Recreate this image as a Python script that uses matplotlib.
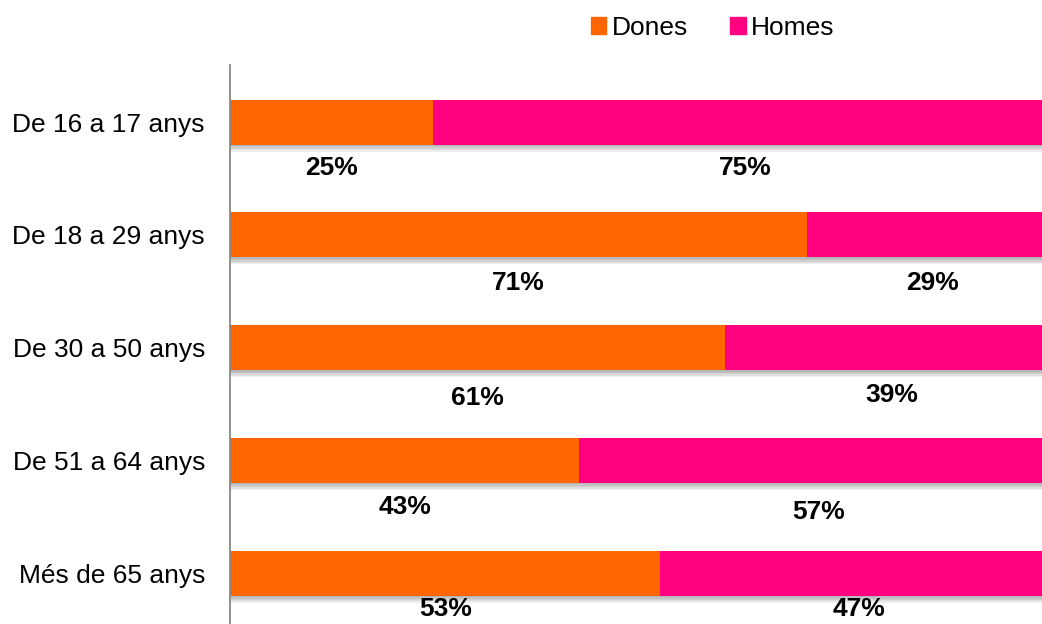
import matplotlib.pyplot as plt
import matplotlib.patheffects as pe
from matplotlib.patches import Patch

# Données
categories = ['De 16 a 17 anys', 'De 18 a 29 anys', 'De 30 a 50 anys',
              'De 51 a 64 anys', 'Més de 65 anys']
dones = [25, 71, 61, 43, 53]
homes = [75, 29, 39, 57, 47]

col_dones = '#FF6600'
col_homes = '#FF0080'

plt.rcParams['font.family'] = ['Liberation Sans', 'DejaVu Sans']

fig = plt.figure(figsize=(10.42, 6.24), dpi=100)
ax = fig.add_axes([230 / 1042, 0, 1 - 230 / 1042, 1 - 65 / 624])

y = list(range(len(categories)))
# ombre douce sous les barres
shadow = [pe.SimplePatchShadow(offset=(0, -k), shadow_rgbFace='#444444', alpha=0.09) for k in (1, 2, 3, 4, 5)]
shadow.append(pe.Normal())

b1 = ax.barh(y, dones, height=0.4, color=col_dones)
b2 = ax.barh(y, homes, left=dones, height=0.4, color=col_homes)
for b in list(b1) + list(b2):
    b.set_path_effects(shadow)

# Étiquettes sous les barres (décalage vertical comme dans l'original)
offs_d = [0.41, 0.43, 0.45, 0.41, 0.32]
offs_h = [0.41, 0.43, 0.42, 0.46, 0.32]
for i in y:
    ax.text(dones[i] / 2, i + offs_d[i], f'{dones[i]}%', ha='center', va='center',
            fontsize=19, fontweight='bold')
    ax.text(dones[i] + homes[i] / 2 + 1, i + offs_h[i], f'{homes[i]}%', ha='center', va='center',
            fontsize=19, fontweight='bold')

ax.set_xlim(0, 100)
ax.set_ylim(4.45, -0.506)
ax.set_yticks(y)
ax.set_yticklabels(categories, fontsize=19)
ax.tick_params(axis='y', length=0, pad=18)
ax.set_xticks([])
for s in ['top', 'right', 'bottom']:
    ax.spines[s].set_visible(False)
ax.spines['left'].set_color('#888888')
ax.spines['left'].set_linewidth(1.3)

handles = [Patch(color=col_dones, label='Dones'), Patch(color=col_homes, label='Homes')]
fig.legend(handles=handles, loc='center', bbox_to_anchor=(0.684, 0.955), ncol=2, frameon=False,
           fontsize=19, handlelength=0.6, handleheight=0.6, handletextpad=0.2,
           columnspacing=1.6)

fig.savefig('out.png', dpi=100)
